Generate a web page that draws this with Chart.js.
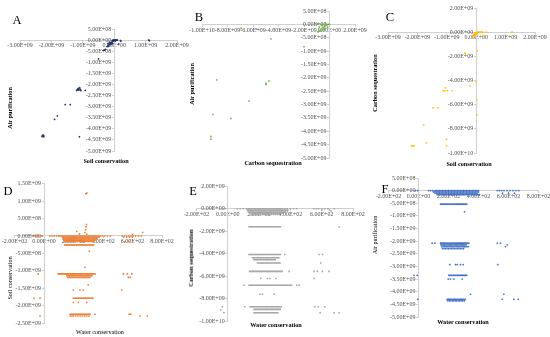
<!DOCTYPE html>
<html><head><meta charset="utf-8">
<script src="https://cdn.jsdelivr.net/npm/chart.js@4.4.1/dist/chart.umd.min.js"></script>
<style>
html,body{margin:0;padding:0;background:#fff;}
#wrap{position:relative;width:550px;height:337px;overflow:hidden;background:#fff;font-family:"Liberation Serif",serif;}
#wrap canvas{position:absolute;left:0;top:0;}
.lt{position:absolute;font-size:12.5px;color:#000;transform:translate(-50%,-50%);white-space:nowrap;line-height:1;}
.tt{position:absolute;font-size:6.2px;color:#000;transform:translate(-50%,-50%);white-space:nowrap;line-height:1;}
.b{font-weight:bold;}
.rot{transform:translate(-50%,-50%) rotate(-90deg);}
</style></head>
<body><div id="wrap">
<canvas id="cA" width="550" height="337"></canvas>
<canvas id="cB" width="550" height="337"></canvas>
<canvas id="cC" width="550" height="337"></canvas>
<canvas id="cD" width="550" height="337"></canvas>
<canvas id="cE" width="550" height="337"></canvas>
<canvas id="cF" width="550" height="337"></canvas>
<div class="lt" style="left:17px;top:20px">A</div>
<div class="lt" style="left:199px;top:17px">B</div>
<div class="lt" style="left:390px;top:17px">C</div>
<div class="lt" style="left:8px;top:191px">D</div>
<div class="lt" style="left:193px;top:191px">E</div>
<div class="lt" style="left:385px;top:189px">F</div>
<div class="tt b rot" style="left:10px;top:108px">Air purification</div>
<div class="tt b" style="left:106px;top:161px">Soil conservation</div>
<div class="tt b rot" style="left:192px;top:84px">Air purification</div>
<div class="tt b" style="left:273px;top:163px">Carbon sequestration</div>
<div class="tt b rot" style="left:375px;top:83px">Carbon sequestration</div>
<div class="tt b" style="left:469px;top:164px">Soil conservation</div>
<div class="tt rot" style="left:10px;top:278px">Soil conservation</div>
<div class="tt" style="left:100px;top:332px">Water conservation</div>
<div class="tt b rot" style="left:191px;top:258px">Carbon sequestration</div>
<div class="tt b" style="left:276px;top:325px">Water conservation</div>
<div class="tt rot" style="left:375px;top:235px">Air purification</div>
<div class="tt b" style="left:463px;top:322px">Water conservation</div>
</div>
<script>
// ---------------- DATA ----------------
// Panel A: Soil conservation (x) vs Air purification (y)
const aX = [-2.27e9,-2.25e9,-2.28e9,-2.24e9,-2.3e9,-1.11e9,-1.9e9,-1.81e9,-1.56e9,-1.4e9,
  -1.2e9,-1.17e9,-1.14e9,-1.1e9,-1.12e9,-1.08e9,-1.15e9,-1.06e9,-1.13e9,-0.92e9,-0.5e9,
  -0.31e9,-0.28e9,-0.35e9,-0.23e9,-0.2e9,-0.17e9,-0.14e9,-0.12e9,-0.1e9,-0.08e9,-0.06e9,-0.04e9,-0.02e9,
  0,0.02e9,0.04e9,0.06e9,0.08e9,0.1e9,-0.03e9,-0.06e9,-0.15e9,-0.2e9,-0.1e9,-0.18e9,-0.05e9,0.03e9,
  0.14e9,0.21e9,0.2e9,1.12e9,1.1e9];
const aY = [-4.28e9,-4.3e9,-4.35e9,-4.36e9,-4.33e9,-4.36e9,-3.57e9,-3.42e9,-2.91e9,-2.91e9,
  -2.27e9,-2.22e9,-2.18e9,-2.15e9,-2.25e9,-2.22e9,-2.26e9,-2.28e9,-2.2e9,-2.27e9,-0.85e9,
  -0.45e9,-0.42e9,-0.47e9,-0.3e9,-0.26e9,-0.22e9,-0.18e9,-0.15e9,-0.12e9,-0.1e9,-0.07e9,-0.05e9,-0.02e9,
  0,0,0,0,0,0,0,-0.01e9,-0.1e9,-0.15e9,-0.2e9,-0.28e9,-0.15e9,-0.05e9,
  -0.18e9,-0.05e9,-0.02e9,-0.02e9,0];

// Panel B: Carbon sequestration (x) vs Air purification (y)
const bX = [-6.94e9,-5.71e9,-4.33e9,-4.59e9,-2.0e9,-8.85e9,-4.98e9,-4.98e9,-4.75e9,-6.31e9,-9.14e9,-7.73e9,-9.3e9,-9.3e9,
  -0.9e9,-0.8e9,-0.7e9,-0.6e9,-0.5e9,-0.4e9,-0.3e9,-0.2e9,-0.1e9,0,-0.5e9,-0.7e9,-0.9e9,-0.3e9,-0.6e9,-0.8e9,-0.45e9,-0.65e9,-0.15e9,-1.0e9,-0.35e9];
const bY = [-0.15e9,-0.175e9,-0.175e9,-0.55e9,-0.84e9,-2.08e9,-2.2e9,-2.25e9,-2.12e9,-2.87e9,-3.37e9,-3.52e9,-4.2e9,-4.3e9,
  -0.28e9,-0.25e9,-0.2e9,-0.16e9,-0.12e9,-0.08e9,-0.05e9,-0.02e9,0,0,0,0,0.02e9,0.02e9,-0.05e9,-0.1e9,-0.2e9,-0.26e9,-0.1e9,0,-0.15e9];

// Panel C: Soil conservation (x) vs Carbon sequestration (y)
const cX = [0.04e9,-0.39e9,-0.37e9,0,-0.21e9,-1.05e9,-0.98e9,-1.07e9,-1.13e9,-0.82e9,0.02e9,-1.47e9,-1.3e9,0.02e9,-1.79e9,
  -1.01e9,-1.69e9,-2.17e9,-2.12e9,-2.2e9,-1.01e9,0.35e9,0.27e9,1.23e9,1.2e9,
  -0.11e9,-0.09e9,-0.07e9,-0.05e9,-0.03e9,-0.01e9,0,0.02e9,0.05e9,0.08e9,0.11e9,0.14e9,0.17e9,0.2e9,0.23e9,-0.06e9,0.03e9,-0.08e9,0.01e9];
const cY = [-1.55e9,-1.74e9,-1.78e9,-4.1e9,-4.46e9,-4.6e9,-4.85e9,-4.85e9,-4.85e9,-4.85e9,-5.62e9,-6.26e9,-6.26e9,-6.86e9,-7.69e9,
  -8.86e9,-9.16e9,-9.41e9,-9.41e9,-9.43e9,-9.41e9,0,-0.36e9,0,-0.02e9,
  -0.4e9,-0.34e9,-0.28e9,-0.22e9,-0.16e9,-0.1e9,-0.05e9,0,0,0,0,0,0,0,0,-0.1e9,-0.08e9,-0.2e9,-0.2e9];

// Panel D: Water conservation (x) vs Soil conservation (y) — rows of equal y
const dRowY = [0,-0.04e9,-0.08e9,-0.12e9,-0.16e9,-0.26e9,-1.09e9,-1.14e9,-1.19e9,-1.79e9,-2.25e9,-2.3e9];
const dRowX = [
  [-80,-65,-50,-35,-20,-10,40,55,70,85,100,110,120,130,140,150,160,170,180,190,200,210,220,230,240,250,260,270,280,290,300,310,320,330,340,350,360,370,380,395,410,430,450,530,545,560,575,590,605,620,640,660],
  [125,135,145,155,165,175,185,195,205,215,225,235,245,255,265,275,285,295,305,315,325,335,345,355,365,375,540,560,580,600],
  [130,140,150,160,170,180,190,200,210,220,230,240,250,260,270,280,290,300,310,320,330,340,350,360],
  [135,145,155,165,175,185,195,205,215,225,235,245,255,265,275,285,295,305,315,325,335,345],
  [140,150,160,170,180,190,200,210,220,230,240,250,260,270,280,290,300,310,320,330,340,550,575],
  [140,147,154,161,168,175,182,189,196,203,210,217,224,231,238,245,252,259,266,273,280,287,294,301,308,315,322,329,336],
  [-39,97,104,112,120,128,136,144,152,160,168,176,184,192,200,208,216,224,232,240,248,256,264,272,280,288,296,304,312,320,328,336,346,538,565,595],
  [155,165,175,185,195,205,215,225,235,245,255,265,275,285,295,305,315,325],
  [160,170,180,190,200,210,220,230,240,250,260,270,280,290,300,310,572,585],
  [-68,-27,199,206,213,220,227,234,241,248,255,262,269,276,283,290,297,304,311,318,325,332],
  [176,184,192,200,208,216,224,232,240,248,256,264,272,280,288,296,304,312,346,578,588],
  [-27,180,190,200,215,230,245,260,275,290,305,651,700]
];
const dX = [278,282,285,288,290,222,240,669,600,283,290,307,278,300,199,244,266,527,199,233,290];
const dY = [0.1e9,0.18e9,0.26e9,0.33e9,0.05e9,0.13e9,0.06e9,0.1e9,0.05e9,1.21e9,1.23e9,-0.44e9,-0.9e9,-1.41e9,-1.55e9,-1.55e9,-1.55e9,-1.55e9,-1.91e9,-1.91e9,-1.91e9];

// Panel E: Water conservation (x) vs Carbon sequestration (y)
const eRowY = [0,-0.1e9,-0.2e9,-0.3e9,-0.4e9,-0.5e9,-1.6e9,-4.06e9,-4.35e9,-4.53e9,-4.82e9,-5.56e9,-6.2e9,-6.79e9,-7.59e9,-8.71e9,-8.94e9,-9.24e9];
const eRowX = [
  [-30,-15,60,80,100,120,130,140,150,160,170,180,190,200,210,220,230,240,250,260,270,280,290,300,310,320,330,340,350,365,380,400,420,440,549,565,580,600,620,640,680],
  [125,135,145,155,165,175,185,195,205,215,225,235,245,255,265,275,285,295,305,315,325,335,345,355,365,375,385,600,650],
  [130,140,150,160,170,180,190,200,210,220,230,240,250,260,270,280,290,300,310,320,330,340,350,360,370,380,660],
  [135,145,155,165,175,185,195,205,215,225,235,245,255,265,275,285,295,305,315,325,335,345,355,365],
  [140,150,160,170,180,190,200,210,220,230,240,250,260,270,280,290,300,310,320,330,340,350],
  [150,162,174,186,198,210,222,234,246,258,270,282,294,306,318,330],
  [136,144,152,160,168,176,184,192,200,208,216,224,232,240,248,256,264,272,280,288,296,304,312,320,328,336,711],
  [136,144,152,160,168,176,184,192,200,208,216,224,232,240,248,256,264,272,280,288,296,304,312,320,328,336,364,583,605],
  [158,166,174,182,190,198,206,214,222,230,238,246,254,262,270,278,286,294,302,310,318,326],
  [168,176,184,192,200,208,216,224,232,240,248,256,264,272,280,288,296,304],
  [190,198,206,214,222,230,238,246,254,262,270,278,286,294,302,310,318,326,334,594],
  [140,148,156,164,172,180,188,196,204,212,220,228,236,244,252,260,268,276,284,292,300,308,316,324,332,340,348,392,551,573,605,647],
  [211,253,270,307,551],
  [104,136,144,152,160,168,176,184,192,200,208,216,224,232,240,248,256,264,272,280,288,296,304,312,320,328,336,344,352,360,368,376,384,392,400,408,441,456],
  [206,222,296],
  [-34,109,142,150,158,166,174,182,190,198,206,214,222,230,238,246,254,262,270,278,286,294,302,310,318,326,334,342,556,577,620],
  [168,176,184,192,200,208,216,224,232,240,248,256,264,272,280,288,296,304,312,320,328,336],
  [-24,168,176,184,192,200,208,216,224,232,240,248,256,264,272,280,288,296,304,312,320,590,679,711]
];
const eX = [-45];
const eY = [-9.0e9];

// Panel F: Water conservation (x) vs Air purification (y)
const fRowY = [0,-0.05e9,-0.1e9,-0.16e9,-0.535e9,-2.08e9,-2.15e9,-2.22e9,-2.3e9,-2.93e9,-3.35e9,-3.5e9,-4.1e9,-4.3e9,-4.36e9];
const fRowX = [
  [-20,-5,67,80,93,110,120,130,140,150,160,170,180,190,200,210,220,230,240,250,260,270,280,290,300,310,320,330,340,350,360,370,380,390,400,525,540,555,570,590,610,630,650,669],
  [100,110,120,130,140,150,160,170,180,190,200,210,220,230,240,250,260,270,280,290,300,310,320,330,340,350,360,370,380,390,400],
  [110,120,130,140,150,160,170,180,190,200,210,220,230,240,250,260,270,280,290,300,310,320,330,340,350,360,370,380,390,560,600,640],
  [125,133,141,149,157,165,173,181,189,197,205,213,221,229,237,245,253,261,269,277,285,293,301,309,317,325,333,341,349,357,365,373,381,389,397,405],
  [147,154,161,168,175,182,189,196,203,210,217,224,231,238,245,252,259,266,273,280,287,294,301,308,315,322],
  [91,109,147,154,161,168,175,182,189,196,203,210,217,224,231,238,245,252,259,266,273,280,287,294,301,308,315,322,329,336,525,547],
  [150,158,166,174,182,190,198,206,214,222,230,238,246,254,262,270,278,286,294,302,310,318,591],
  [155,163,171,179,187,195,203,211,219,227,235,243,251,259,267,275,283,291,299,307,315,323,331,580],
  [160,170,180,190,200,210,220,230,240,250,260,270,280,290,300],
  [209,247,258,280,298,529],
  [-30,-9,202,209,216,223,230,237,244,251,258,265,272,279,286,293,300,307,314,321],
  [198,213,236,291],
  [347,569],
  [-5,191,199,207,215,223,231,239,247,255,263,271,279,287,295,303,311,558,636,665],
  [195,205,215,225,235,245,255,265,275,285,295,305]
];
const fX = [307];
const fY = [-0.84e9];

// ---------------- HELPERS ----------------
function pairs(xs, ys){ return xs.map((x,i)=>({x:x, y:ys[i]})); }
function rowPairs(rowY, rowX, xs, ys){
  const out = [];
  rowY.forEach((y,i)=>rowX[i].forEach(x=>out.push({x:x,y:y})));
  return out.concat(pairs(xs, ys));
}
function sci(v){
  if (Math.abs(v) < 1e-9) return '0.00E+00';
  const s = Number(v).toExponential(2);
  const parts = s.split('e');
  const sign = parts[1][0] === '-' ? '-' : '+';
  let d = parts[1].replace(/[+-]/,'');
  if (d.length < 2) d = '0' + d;
  return parts[0] + 'E' + sign + d;
}
function zeroPad(s){ s.paddingLeft=0; s.paddingRight=0; s.paddingTop=0; s.paddingBottom=0; }
const FONT = {family:'Liberation Serif', size:6};
const AXIS = '#d0d0d0';
const TXT = '#505050';

function makeChart(id, pts, color, style, area, xr, yr){
  const ctx = document.getElementById(id);
  return new Chart(ctx, {
    type:'scatter',
    data:{datasets:[{data:pts, backgroundColor:color, borderColor:color, borderWidth:0, pointRadius:1.1, pointStyle:style}]},
    options:{
      responsive:false, animation:false, devicePixelRatio:1, events:[],
      layout:{padding:{left:area[0], top:area[1], right:550-area[2], bottom:337-area[3]}},
      plugins:{legend:{display:false}, tooltip:{enabled:false}},
      scales:{
        x:{type:'linear', position:{y:0}, min:xr[0], max:xr[1],
           ticks:{stepSize:xr[2], autoSkip:false, maxRotation:0, minRotation:0, font:FONT, color:TXT, padding:0, callback:(v)=>sci(v)},
           grid:{drawOnChartArea:false, drawTicks:true, tickLength:2, color:AXIS},
           border:{color:AXIS, width:1}, afterFit:zeroPad},
        y:{type:'linear', position:{x:0}, min:yr[0], max:yr[1],
           ticks:{stepSize:yr[2], autoSkip:false, font:FONT, color:TXT, padding:1, callback:(v)=>sci(v) + '  '},
           grid:{drawOnChartArea:false, drawTicks:true, tickLength:2, color:AXIS},
           border:{color:AXIS, width:1}, afterFit:zeroPad}
      }
    }
  });
}

makeChart('cA', pairs(aX,aY), '#22306e', 'rectRot', [20,29,177,151], [-3e9,2e9,1e9], [-5e9,5e8,5e8]);
makeChart('cB', pairs(bX,bY), '#70ad47', 'rect', [202,11,355,158], [-1e10,2e9,2e9], [-5e9,5e8,5e8]);
makeChart('cC', pairs(cX,cY), '#ffc000', 'rect', [388,8,535,153], [-3e9,2e9,1e9], [-1e10,2e9,2e9]);
makeChart('cD', rowPairs(dRowY,dRowX,dX,dY), '#ed7d31', 'rect', [14.5,183.7,162,323], [-200,800,200], [-2.5e9,1.5e9,5e8]);
makeChart('cE', rowPairs(eRowY,eRowX,eX,eY), '#a5a5a5', 'rect', [196.4,186.3,353,321.3], [-200,800,200], [-1e10,2e9,2e9]);
makeChart('cF', rowPairs(fRowY,fRowX,fX,fY), '#4472c4', 'rectRot', [388.5,178,538.5,317], [-200,800,200], [-5e9,5e8,5e8]);
</script>
</body></html>
